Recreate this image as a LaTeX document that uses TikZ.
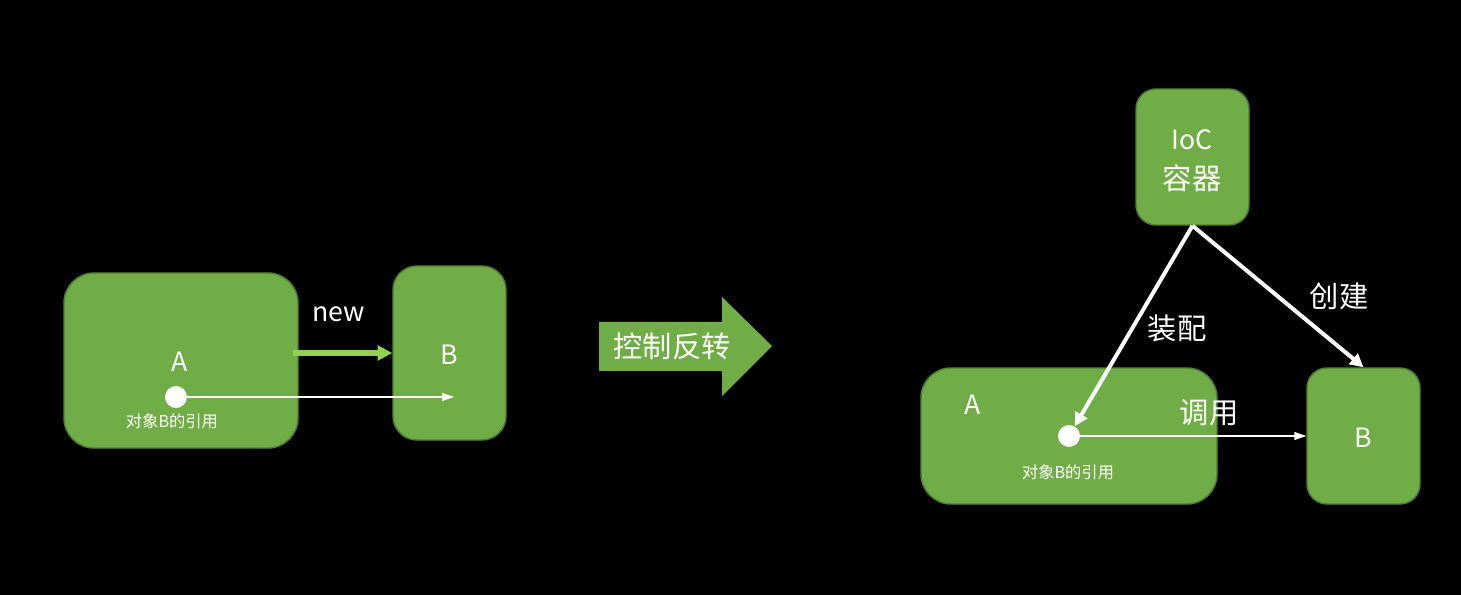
\documentclass[tikz,border=0pt]{standalone}
\usepackage{fontspec}
\setmainfont{Noto Sans CJK SC}
\usetikzlibrary{positioning,calc,arrows.meta}
\definecolor{boxc}{HTML}{70AD47}
\definecolor{edgec}{HTML}{507E32}
\definecolor{newc}{HTML}{92D050}

\begin{document}
\begin{tikzpicture}[x=0.75pt, y=-0.75pt,
  obj/.style={draw=edgec, line width=1.1pt, fill=boxc, inner sep=0pt},
  lbl/.style={text=white, font=\fontsize{20}{23}\selectfont, inner sep=0pt},
  cjk/.style={text=white, font=\fontsize{22}{26}\selectfont, inner sep=0pt},
  small/.style={text=white, font=\fontsize{12.2}{14}\selectfont, inner sep=0pt},
  refdot/.style={circle, fill=white, minimum size=16.5pt, inner sep=0pt},
  thin/.style={white, line width=0.8pt, -{Triangle[length=9pt, width=6pt]}},
  thick/.style={white, line width=3pt, -{Triangle[length=10pt, width=10pt]}}]
 \fill[black] (0,0) rectangle (1461,595);
 \useasboundingbox (0,0) rectangle (1461,595);
 % before
 \node[obj, rounded corners=22.5pt, minimum width=175.5pt, minimum height=131.25pt] (aL) at (181,360.5) {};
 \node[obj, rounded corners=18pt, minimum width=84.75pt, minimum height=130.5pt] (bL) at (449.5,353) {};
 \node[lbl] (aLtxt) at (180,362) {A};
 \node[lbl] (bLtxt) at (449,355) {B};
 \node[refdot] (refL) at (176,397) {};
 \node[small] (refLtxt) at (172,421) {对象B的引用};
 \coordinate (tipL) at (454,397);
 \draw[thin] (refL) -- (tipL);
 \draw[newc, line width=3.8pt, -{Triangle[length=11pt, width=11pt]}] ([xshift=-4pt]aL.east |- bL.west) -- (bL.west);
 \node[lbl] (newtxt) at (339,314) {new};
 % big arrow
 \fill[boxc] (599,322) -- (722,322) -- (722,297) -- (772,346) -- (722,396) -- (722,371) -- (599,371) -- cycle;
 \node[cjk] (ioctxt) at (672,346) {控制反转};
 % after
 \node[obj, rounded corners=15pt, minimum width=84.75pt, minimum height=102pt] (ioc) at (1192.5,157) {};
 \node[lbl] (iocA) at (1192,140) {IoC};
 \node[cjk] (iocB) at (1192,178) {容器};
 \node[obj, rounded corners=22.5pt, minimum width=222pt, minimum height=102pt] (aR) at (1069,436) {};
 \node[obj, rounded corners=15pt, minimum width=84.75pt, minimum height=102pt] (bR) at (1363.5,436) {};
 \node[lbl] (aRtxt) at (973,405) {A};
 \node[lbl] (bRtxt) at (1363,438) {B};
 \node[refdot] (refR) at (1069,436) {};
 \node[small] (refRtxt) at (1068,472) {对象B的引用};
 \draw[thin] (refR) -- (bR.west |- refR);
 \node[cjk] (calltxt) at (1209,413) {调用};
 \draw[thick] (ioc.south) -- (refR);
 \draw[thick] (ioc.south) -- (bR.north);
 \node[cjk] (wiretxt) at (1177,328) {装配};
 \node[cjk] (maketxt) at (1339,296) {创建};
\end{tikzpicture}
\end{document}
